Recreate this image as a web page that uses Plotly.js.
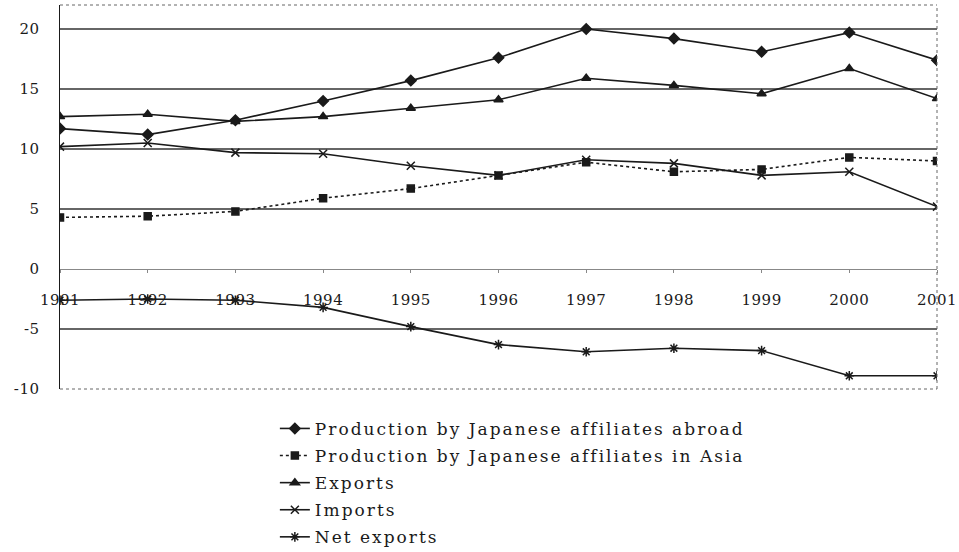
<!DOCTYPE html>
<html>
<head>
<meta charset="utf-8">
<script src="https://cdn.plot.ly/plotly-3.0.1.min.js"></script>
<style>html,body{margin:0;padding:0;background:#fff;}#chart{width:959px;height:552px;}
#chart .legendtext{letter-spacing:2px;}
#chart .legend .scrollbox, #chart .legend g{clip-path:none !important;}
#chart .xtick text, #chart .ytick text{letter-spacing:0.5px;}
</style>
</head>
<body>
<div id="chart"></div>
<script>
const years = [1991,1992,1993,1994,1995,1996,1997,1998,1999,2000,2001];
const prodAbroad = [11.7,11.2,12.4,14.0,15.7,17.6,20.0,19.2,18.1,19.7,17.4];
const prodAsia   = [4.3,4.4,4.8,5.9,6.7,7.8,8.9,8.1,8.3,9.3,9.0];
const exportsV   = [12.7,12.9,12.3,12.7,13.4,14.1,15.9,15.3,14.6,16.7,14.2];
const importsV   = [10.2,10.5,9.7,9.6,8.6,7.8,9.1,8.8,7.8,8.1,5.2];
const netExports = [-2.6,-2.5,-2.6,-3.2,-4.8,-6.3,-6.9,-6.6,-6.8,-8.9,-8.9];
const seriesNames = ["Production by Japanese affiliates abroad","Production by Japanese affiliates in Asia","Exports","Imports","Net exports"];
const yTickVals = [-10,-5,0,5,10,15,20];
const yTickText = ["-10","-5","0","5","10","15","20"];
const gridVals = [20,15,10,5,-5];

const ink = '#1a1a1a';
function tr(y, name, symbol, dash, size, group){
  return {x: years, y: y, name: name, type:'scatter', mode:'lines+markers',
    legendgroup: group,
    line:{color:ink, width:1.6, dash:dash},
    marker:{symbol:symbol, size:size, color:ink, line:{color:ink, width:1.5}}};
}
const data = [
  tr(prodAbroad, seriesNames[0], 'diamond', 'solid', 8, 'a'),
  tr(prodAsia, seriesNames[1], 'square', 'dot', 7, 'b'),
  tr(exportsV, seriesNames[2], 'triangle-up', 'solid', 8, 'c'),
  tr(importsV, seriesNames[3], 'x-thin-open', 'solid', 8, 'd'),
  tr(netExports, seriesNames[4], 'asterisk-open', 'solid', 8, 'e')
];
const yMin = -10, yMax = 22;
const shapes = gridVals.map(v => ({type:'line', xref:'paper', x0:0, x1:1, yref:'y', y0:v, y1:v, layer:'below', line:{color:'#333', width:1.6}}));
shapes.push({type:'line', xref:'paper', yref:'paper', x0:0, x1:1, y0:1, y1:1, line:{color:'#666', width:1, dash:'dot'}});
shapes.push({type:'line', xref:'paper', yref:'paper', x0:1, x1:1, y0:0, y1:1, line:{color:'#666', width:1, dash:'dot'}});
shapes.push({type:'line', xref:'paper', yref:'paper', x0:0, x1:1, y0:0, y1:0, line:{color:'#666', width:1, dash:'dot'}});

const layout = {
  width:959, height:552,
  margin:{l:60, r:22, t:5, b:163, autoexpand:false},
  paper_bgcolor:'#fff', plot_bgcolor:'#fff',
  font:{family:'DejaVu Serif, serif', color:ink, size:15},
  showlegend:true,
  xaxis:{range:[1991,2001], tickvals:years, ticktext:years.map(String), anchor:'free',
    position:(0 - yMin)/(yMax - yMin), showgrid:false, zeroline:false, showline:true,
    linecolor:'#888', linewidth:1, ticks:'outside', ticklen:3, tickcolor:'#888',
    ticklabelstandoff:14,
    tickfont:{family:'DejaVu Serif, serif', size:15, color:ink}},
  yaxis:{range:[yMin,yMax], tickvals:yTickVals, ticktext:yTickText, showgrid:false, zeroline:false,
    showline:true, linecolor:ink, linewidth:1.5, ticks:'outside', ticklen:16, tickcolor:'rgba(0,0,0,0)',
    tickfont:{family:'DejaVu Serif, serif', size:15, color:ink}},
  legend:{x:0.245, xanchor:'left', y:-0.057, yanchor:'top', orientation:'v',
    font:{family:'DejaVu Serif, serif', size:17, color:ink}, tracegroupgap:2, bgcolor:'rgba(0,0,0,0)'},
  shapes:shapes
};
Plotly.newPlot('chart', data, layout, {staticPlot:true, displayModeBar:false});
</script>
</body>
</html>
